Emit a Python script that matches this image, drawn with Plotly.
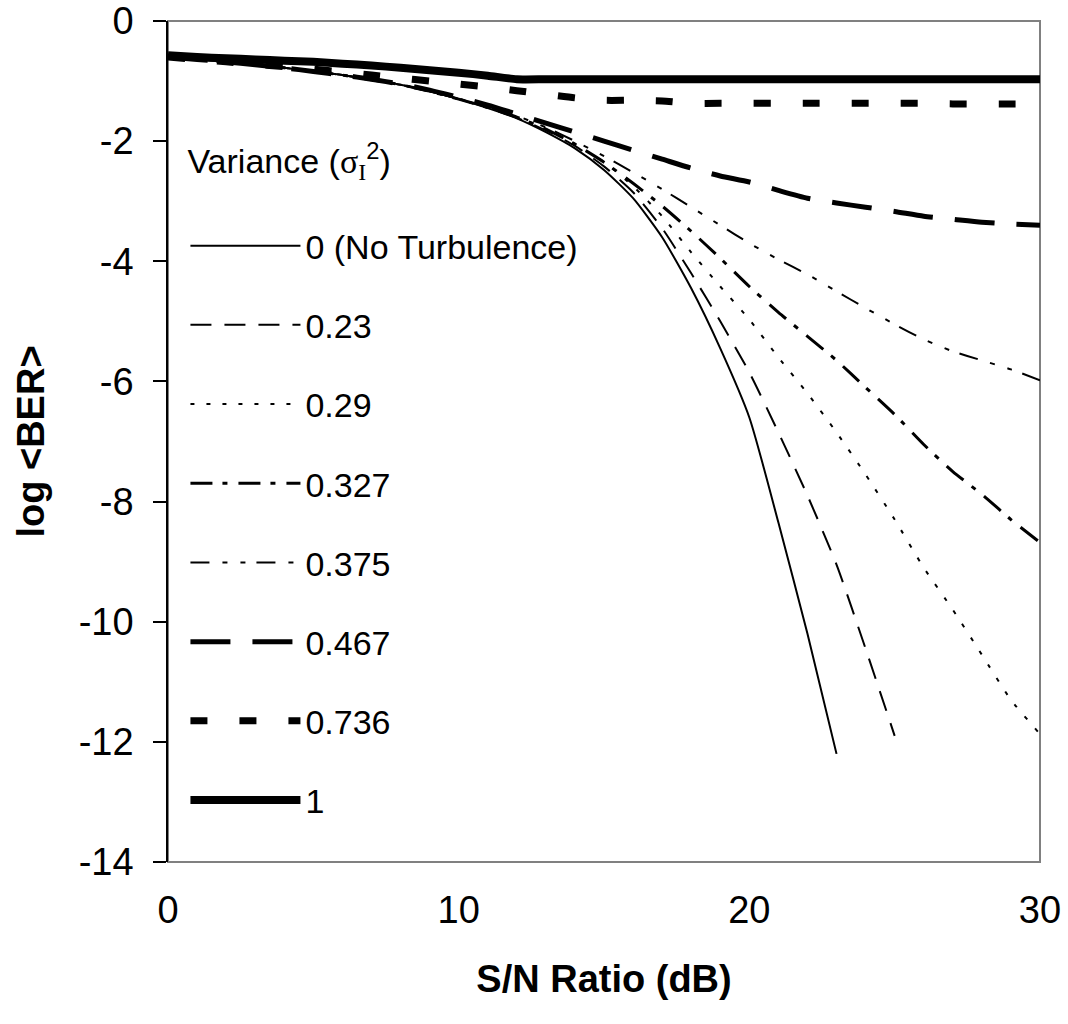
import plotly.graph_objects as go

# ---- data ----
snr = list(range(0, 31))

variance_labels = ["0 (No Turbulence)", "0.23", "0.29", "0.327", "0.375", "0.467", "0.736", "1"]

ber_0 = [-0.60, -0.64, -0.68, -0.73, -0.78, -0.84, -0.90, -0.98, -1.06, -1.17, -1.30, -1.45,
         -1.62, -1.85, -2.12, -2.48, -2.95, -3.60, -4.45, -5.45, -6.60, -8.35, -10.20, -12.20]
ber_023 = [-0.60, -0.64, -0.68, -0.73, -0.78, -0.84, -0.90, -0.98, -1.06, -1.17, -1.30, -1.44,
           -1.61, -1.82, -2.08, -2.42, -2.85, -3.45, -4.20, -5.00, -5.85, -6.85, -7.90, -9.05,
           -10.45, -11.90]
ber_029 = [-0.60, -0.64, -0.68, -0.73, -0.78, -0.84, -0.90, -0.98, -1.06, -1.17, -1.30, -1.44,
           -1.60, -1.80, -2.05, -2.35, -2.75, -3.25, -3.85, -4.42, -4.97, -5.60, -6.20, -6.85,
           -7.55, -8.30, -9.10, -9.80, -10.55, -11.30, -11.87]
ber_0327 = [-0.60, -0.64, -0.68, -0.73, -0.78, -0.84, -0.90, -0.98, -1.06, -1.17, -1.30, -1.44,
            -1.60, -1.80, -2.05, -2.35, -2.70, -3.08, -3.50, -3.95, -4.42, -4.85, -5.25, -5.65,
            -6.10, -6.55, -7.05, -7.50, -7.88, -8.30, -8.68]
ber_0375 = [-0.60, -0.64, -0.68, -0.73, -0.78, -0.84, -0.90, -0.98, -1.06, -1.17, -1.29, -1.43,
            -1.58, -1.77, -2.00, -2.25, -2.52, -2.80, -3.10, -3.40, -3.70, -3.97, -4.22, -4.50,
            -4.78, -5.05, -5.30, -5.50, -5.65, -5.80, -5.98]
ber_0467 = [-0.60, -0.64, -0.68, -0.73, -0.78, -0.84, -0.90, -0.97, -1.05, -1.15, -1.27, -1.40,
            -1.55, -1.70, -1.85, -2.00, -2.15, -2.30, -2.45, -2.58, -2.68, -2.82, -2.95, -3.03,
            -3.10, -3.17, -3.25, -3.30, -3.35, -3.38, -3.40]
ber_0736 = [-0.60, -0.64, -0.68, -0.72, -0.76, -0.80, -0.85, -0.90, -0.95, -1.00, -1.05, -1.10,
            -1.16, -1.22, -1.28, -1.32, -1.32, -1.33, -1.37, -1.37, -1.37, -1.37, -1.37, -1.37,
            -1.37, -1.37, -1.37, -1.38, -1.38, -1.38, -1.38]
ber_1 = [-0.57, -0.60, -0.62, -0.64, -0.66, -0.68, -0.71, -0.74, -0.78, -0.82, -0.86, -0.91,
         -0.97, -0.97, -0.97, -0.97, -0.97, -0.97, -0.97, -0.97, -0.97, -0.97, -0.97, -0.97,
         -0.97, -0.97, -0.97, -0.97, -0.97, -0.97, -0.97]

series = [ber_0, ber_023, ber_029, ber_0327, ber_0375, ber_0467, ber_0736, ber_1]

x_ticks = [0, 10, 20, 30]
x_tick_text = ["0", "10", "20", "30"]
y_ticks = [0, -2, -4, -6, -8, -10, -12, -14]
y_tick_text = ["0", "-2", "-4", "-6", "-8", "-10", "-12", "-14"]

# ---- styles ----
styles = [
    dict(width=2, dash="solid"),
    dict(width=2, dash="21px,13px"),
    dict(width=2, dash="4px,12px"),
    dict(width=3, dash="22px,10px,5px,11px"),
    dict(width=2, dash="19px,13px,5px,13px,5px,11px"),
    dict(width=5, dash="40px,22px"),
    dict(width=7, dash="17px,32px"),
    dict(width=8, dash="solid"),
]

FONT = "Liberation Sans, Arial, sans-serif"

fig = go.Figure()
for i, (lab, ys) in enumerate(zip(variance_labels, series)):
    fig.add_trace(go.Scatter(
        x=snr[:len(ys)], y=ys, mode="lines", name=lab,
        legendgroup=f"g{i}",
        line=dict(color="black", width=styles[i]["width"], dash=styles[i]["dash"],
                  shape="spline", smoothing=0.6),
    ))

fig.update_layout(
    width=1068, height=1024,
    margin=dict(l=168, r=28, t=21, b=162),
    paper_bgcolor="white", plot_bgcolor="white",
    font=dict(family=FONT, color="black", size=34),
    showlegend=True,
    legend=dict(
        x=0.02, y=0.872, xanchor="left", yanchor="top",
        bgcolor="rgba(0,0,0,0)", borderwidth=0,
        font=dict(family=FONT, size=34, color="black"),
        itemwidth=110,
        tracegroupgap=32,
        title=dict(text='Variance (<span style="font-family:Liberation Serif">σ<sub>I</sub></span><sup>2</sup>)<br> ',
                   font=dict(family=FONT, size=34, color="black")),
    ),
    xaxis=dict(
        range=[0, 30], tickvals=x_ticks, ticktext=x_tick_text, ticks="", showline=False,
        showgrid=False, automargin=False,
        zeroline=False, tickfont=dict(size=38), ticklabelstandoff=22,
        title=dict(text="<b>S/N Ratio (dB)</b>", font=dict(size=38), standoff=35),
    ),
    xaxis2=dict(
        range=[0, 30], overlaying="x", side="top", anchor="y", matches="x",
        tickvals=[10, 20, 30], ticks="inside", ticklen=14, tickcolor="black", tickwidth=1.5,
        showticklabels=False, showline=True, linecolor="black", linewidth=1.5,
        showgrid=False, zeroline=False, automargin=False,
    ),
    yaxis=dict(
        range=[-14, 0], tickvals=y_ticks, ticktext=y_tick_text, ticks="outside", ticklen=13,
        tickcolor="black", automargin=False,
        tickwidth=1.5, showline=True, linecolor="black", linewidth=1.5, showgrid=False,
        zeroline=False, tickfont=dict(size=38), ticklabelstandoff=12,
        title=dict(text="<b>log &lt;BER&gt;</b>", font=dict(size=38), standoff=22),
    ),
    shapes=[dict(type="rect", xref="paper", yref="paper", x0=0, x1=1, y0=0, y1=1,
                 line=dict(color="#808080", width=2), layer="below")],
)

fig.write_html("out.html")
